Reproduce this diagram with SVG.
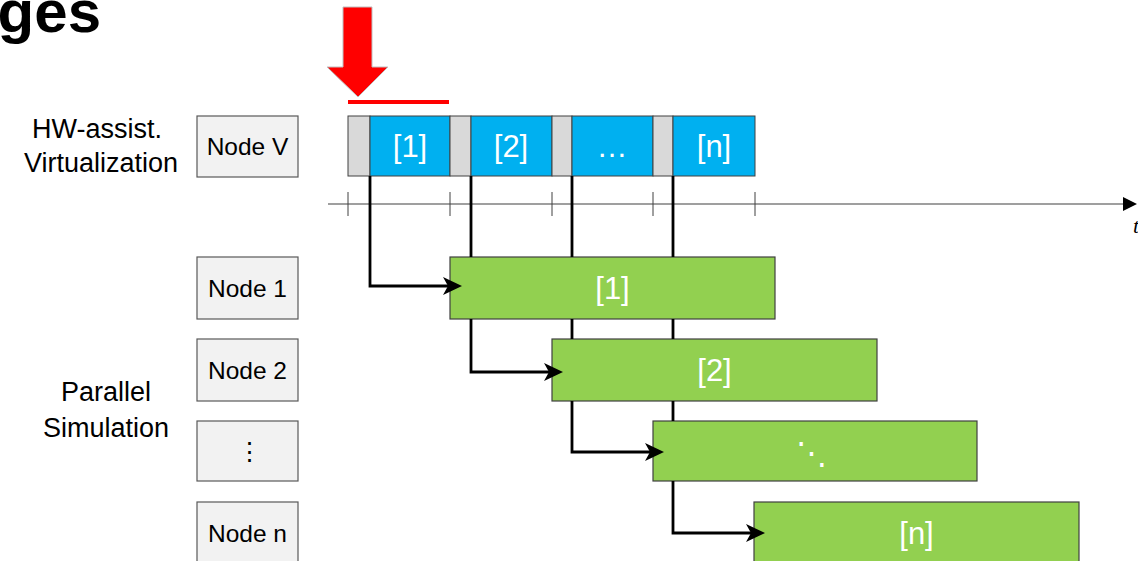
<svg xmlns="http://www.w3.org/2000/svg" xmlns:xlink="http://www.w3.org/1999/xlink" width="1138" height="561" viewBox="0 0 1138 561">
  <style>
    .lbl { font-family: "Liberation Sans", Arial, sans-serif; fill: #000; }
    .side { font-size: 27px; text-anchor: middle; }
    .node rect { fill: #f2f2f2; stroke: #595959; stroke-width: 1.2; }
    .node text { font-family: "Liberation Sans", Arial, sans-serif; font-size: 24.5px; text-anchor: middle; fill: #000; }
    .gap { fill: #d9d9d9; stroke: #404040; stroke-width: 1; }
    .slot { fill: #00b0f0; stroke: #404040; stroke-width: 1; }
    .sim rect { fill: #92d050; stroke: #404040; stroke-width: 1.2; }
    .wtxt { font-family: "Liberation Sans", Arial, sans-serif; font-size: 31px; fill: #fff; text-anchor: middle; }
    .tick { stroke: #404040; stroke-width: 1; }
    .flow { fill: none; stroke: #000; stroke-width: 2.8; stroke-linejoin: miter; }
    .head { fill: #000; }
  </style>
  <defs>
    <!-- notched arrowhead, tip at the origin, pointing right -->
    <path id="ah" d="M-19,-9 L0,0 L-19,9 L-14,0 z"/>
  </defs>

  <rect width="1138" height="561" fill="#fff"/>

  <!-- slide title fragment -->
  <text x="101" y="32" font-family="Liberation Sans, Arial, sans-serif" font-size="60" font-weight="bold" text-anchor="end" fill="#000">ges</text>

  <!-- red marker arrow and underline -->
  <polygon points="343,7 372,7 372,67 388,67 358,97 327,67 343,67" fill="#ff0000" stroke="#bfbfbf" stroke-width="1"/>
  <rect x="348" y="100" width="101" height="4" fill="#ff0000"/>

  <!-- row labels -->
  <text class="lbl side" x="97" y="138">HW-assist.</text>
  <text class="lbl side" x="101" y="172">Virtualization</text>
  <text class="lbl side" x="106" y="401">Parallel</text>
  <text class="lbl side" x="106" y="437">Simulation</text>

  <!-- time axis -->
  <g id="axis">
    <line x1="328" y1="204" x2="1124" y2="204" stroke="#7f7f7f" stroke-width="1.5"/>
    <polygon points="1123,197 1137,204 1123,211" fill="#000"/>
    <line class="tick" x1="348" y1="192" x2="348" y2="216"/>
    <line class="tick" x1="450" y1="192" x2="450" y2="216"/>
    <line class="tick" x1="552" y1="192" x2="552" y2="216"/>
    <line class="tick" x1="653" y1="192" x2="653" y2="216"/>
    <line class="tick" x1="755" y1="192" x2="755" y2="216"/>
    <text x="1133" y="233" font-family="Liberation Serif, serif" font-style="italic" font-size="22" fill="#000">t</text>
  </g>

  <!-- virtualization timeline -->
  <g id="vtrack">
    <rect class="gap" x="348" y="116" width="22" height="60"/>
    <rect class="slot" x="370" y="116" width="80" height="60"/>
    <rect class="gap" x="450" y="116" width="21" height="60"/>
    <rect class="slot" x="471" y="116" width="81" height="60"/>
    <rect class="gap" x="552" y="116" width="20" height="60"/>
    <rect class="slot" x="572" y="116" width="81" height="60"/>
    <rect class="gap" x="653" y="116" width="20" height="60"/>
    <rect class="slot" x="673" y="116" width="82" height="60"/>
    <text class="wtxt" x="410" y="157">[1]</text>
    <text class="wtxt" x="511" y="157">[2]</text>
    <text class="wtxt" x="612" y="157">…</text>
    <text class="wtxt" x="714" y="157">[n]</text>
  </g>

  <!-- node boxes -->
  <g id="node-v" class="node"><rect x="197" y="116" width="101" height="61"/><text x="247.5" y="155">Node V</text></g>
  <g id="node-1" class="node"><rect x="197" y="257" width="101" height="62"/><text x="247.5" y="297">Node 1</text></g>
  <g id="node-2" class="node"><rect x="197" y="339" width="101" height="62"/><text x="247.5" y="379">Node 2</text></g>
  <g id="node-dots" class="node"><rect x="197" y="421" width="101" height="60"/><text x="249" y="460">⋮</text></g>
  <g id="node-n" class="node"><rect x="197" y="502" width="101" height="62"/><text x="247.5" y="542">Node n</text></g>

  <!-- simulation bars -->
  <g id="sim-1" class="sim"><rect x="450" y="257" width="325" height="62"/><text class="wtxt" x="612.5" y="299">[1]</text></g>
  <g id="sim-2" class="sim"><rect x="552" y="339" width="325" height="62"/><text class="wtxt" x="714.5" y="381">[2]</text></g>
  <g id="sim-dots" class="sim"><rect x="653" y="421" width="324" height="60"/><text class="wtxt" x="811" y="464" font-family="DejaVu Sans, sans-serif" font-size="26">⋱</text></g>
  <g id="sim-n" class="sim"><rect x="754" y="502" width="325" height="62"/><text class="wtxt" x="916.5" y="544">[n]</text></g>

  <!-- connectors: verticals pass behind the bars they cross (gaps), heads sit on top -->
  <g id="connectors">
    <path class="flow" d="M370,176 V286 H450"/>
    <use xlink:href="#ah" class="head" transform="translate(462,286)"/>
    <path class="flow" d="M471,176 V257 M471,319 V372 H552"/>
    <use xlink:href="#ah" class="head" transform="translate(563,372)"/>
    <path class="flow" d="M572,176 V257 M572,319 V339 M572,401 V452 H653"/>
    <use xlink:href="#ah" class="head" transform="translate(664,452)"/>
    <path class="flow" d="M673,176 V257 M673,319 V339 M673,401 V421 M673,481 V533 H754"/>
    <use xlink:href="#ah" class="head" transform="translate(765,533)"/>
  </g>
</svg>
